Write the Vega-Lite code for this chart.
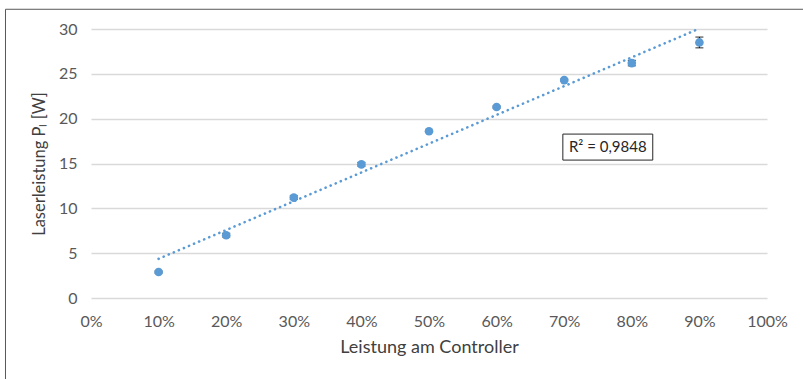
{
  "$schema": "https://vega.github.io/schema/vega-lite/v6.json",
  "width": 676,
  "height": 269,
  "autosize": "none",
  "padding": {"left": 91, "top": 29, "right": 36, "bottom": 81},
  "background": "white",
  "config": {
    "view": {"stroke": null},
    "font": "Lato",
    "axis": {"labelFont": "Lato", "titleFont": "Lato", "labelColor": "#595959", "titleColor": "#404040", "labelFontSize": 16, "titleFontSize": 17, "titleFontWeight": "normal"}
  },
  "data": {
    "values": [
      {"leistung": 0.1, "pl": 2.9, "err": 0.1},
      {"leistung": 0.2, "pl": 7.0, "err": 0.2},
      {"leistung": 0.3, "pl": 11.2, "err": 0.2},
      {"leistung": 0.4, "pl": 14.9, "err": 0.2},
      {"leistung": 0.5, "pl": 18.6, "err": 0.1},
      {"leistung": 0.6, "pl": 21.3, "err": 0.1},
      {"leistung": 0.7, "pl": 24.3, "err": 0.1},
      {"leistung": 0.8, "pl": 26.2, "err": 0.3},
      {"leistung": 0.9, "pl": 28.5, "err": 0.6}
    ]
  },
  "layer": [
    {
      "mark": {"type": "rect", "fill": null, "stroke": "#595959", "strokeWidth": 1, "clip": false},
      "data": {"values": [{}]},
      "encoding": {
        "x": {"datum": -0.1265, "type": "quantitative", "scale": {"domain": [0, 1], "nice": false}},
        "x2": {"datum": 1.3},
        "y": {"datum": 32.2, "type": "quantitative"},
        "y2": {"datum": -12}
      }
    },
    {
      "mark": {"type": "point", "opacity": 0},
      "encoding": {
        "x": {
          "field": "leistung", "type": "quantitative",
          "scale": {"domain": [0, 1], "nice": false},
          "axis": {"values": [0, 0.1, 0.2, 0.3, 0.4, 0.5, 0.6, 0.7, 0.8, 0.9, 1], "format": ".0%", "grid": false, "domain": false, "ticks": false, "labelPadding": 15, "title": "Leistung am Controller", "titleFontSize": 18, "titlePadding": 9, "labelFlush": false}
        },
        "y": {
          "field": "pl", "type": "quantitative",
          "scale": {"domain": [0, 30], "nice": false},
          "axis": {"values": [0, 5, 10, 15, 20, 25, 30], "grid": true, "gridColor": "#D9D9D9", "gridWidth": 1.3, "domain": false, "ticks": false, "labelPadding": 14, "title": "Laserleistung Pₗ [W]", "titleFontSize": 16.5, "titlePadding": 11}
        }
      }
    },
    {
      "mark": {"type": "rule", "color": "#000000", "strokeWidth": 1},
      "transform": [
        {"calculate": "datum.pl - datum.err", "as": "lo"},
        {"calculate": "datum.pl + datum.err", "as": "hi"}
      ],
      "encoding": {
        "x": {"field": "leistung", "type": "quantitative"},
        "y": {"field": "lo", "type": "quantitative"},
        "y2": {"field": "hi"}
      }
    },
    {
      "mark": {"type": "tick", "color": "#000000", "orient": "horizontal", "size": 8, "thickness": 1.2},
      "transform": [
        {"calculate": "datum.pl - datum.err", "as": "lo"}
      ],
      "encoding": {
        "x": {"field": "leistung", "type": "quantitative"},
        "y": {"field": "lo", "type": "quantitative"}
      }
    },
    {
      "mark": {"type": "tick", "color": "#000000", "orient": "horizontal", "size": 8, "thickness": 1.2},
      "transform": [
        {"calculate": "datum.pl + datum.err", "as": "hi"}
      ],
      "encoding": {
        "x": {"field": "leistung", "type": "quantitative"},
        "y": {"field": "hi", "type": "quantitative"}
      }
    },
    {
      "mark": {"type": "circle", "color": "#5B9BD5", "opacity": 1, "size": 75},
      "encoding": {
        "x": {"field": "leistung", "type": "quantitative"},
        "y": {"field": "pl", "type": "quantitative"}
      }
    },
    {
      "mark": {"type": "line", "color": "#5B9BD5", "strokeWidth": 2.6, "strokeDash": [0.1, 5.4], "strokeCap": "round", "clip": true},
      "transform": [{"regression": "pl", "on": "leistung", "method": "linear"}],
      "encoding": {
        "x": {"field": "leistung", "type": "quantitative"},
        "y": {"field": "pl", "type": "quantitative"}
      }
    },
    {
      "mark": {"type": "rect", "fill": "white", "stroke": "#262626", "strokeWidth": 1},
      "data": {"values": [{}]},
      "encoding": {
        "x": {"datum": 0.698, "type": "quantitative"},
        "x2": {"datum": 0.831},
        "y": {"datum": 18.28, "type": "quantitative"},
        "y2": {"datum": 15.38}
      }
    },
    {
      "mark": {"type": "text", "font": "Lato", "fontSize": 15, "color": "#262626", "align": "center", "baseline": "middle"},
      "data": {"values": [{"label": "R² = 0,9848"}]},
      "encoding": {
        "x": {"datum": 0.7645, "type": "quantitative"},
        "y": {"datum": 16.83, "type": "quantitative"},
        "text": {"field": "label"}
      }
    }
  ]
}
